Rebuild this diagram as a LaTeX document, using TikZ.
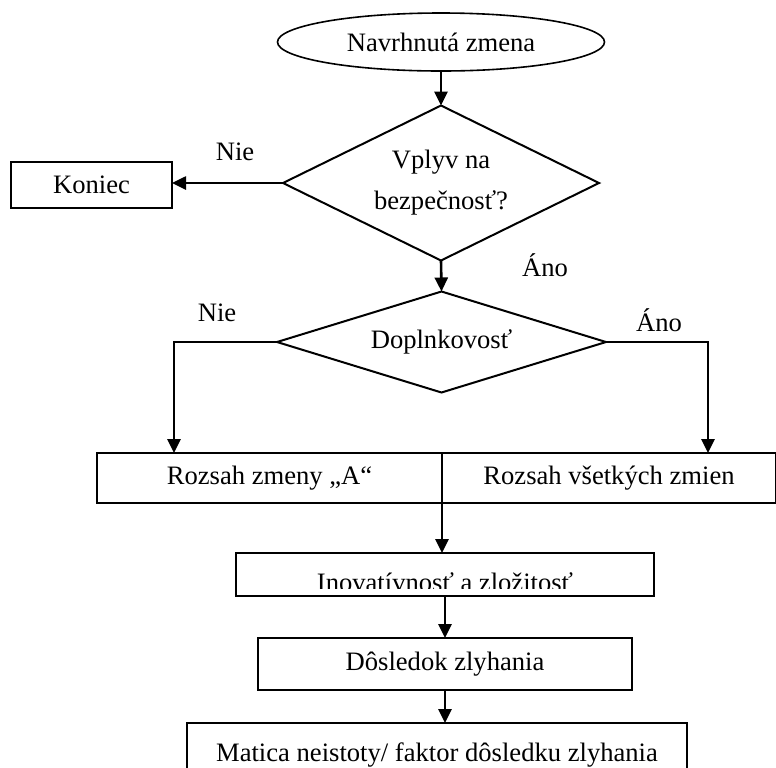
\documentclass[tikz,border=0pt]{standalone}
\usepackage{fontspec}
\setmainfont{Liberation Serif}
\usetikzlibrary{shapes.geometric,arrows.meta}

\begin{document}
\begin{tikzpicture}[x=0.5pt,y=-0.5pt,
  every node/.style={font=\fontsize{13.3}{20.5}\selectfont,inner sep=0pt,outer sep=0pt},
  terminal/.style={draw=drawColor,line width=0.8pt,ellipse},
  decision/.style={draw=drawColor,line width=1pt,diamond,aspect=2,align=center},
  process/.style={draw=drawColor,line width=1pt,rectangle},
  answer/.style={text=drawColor},
  flow/.style={draw=drawColor,line width=1.3pt,-{Triangle[length=7pt,width=6.5pt]}}]
\definecolor{drawColor}{RGB}{0,0,0}
\path[use as bounding box] (0,0) rectangle (776,767);

\node[terminal,minimum width=163.5pt,minimum height=29pt] (navrh) at (441,42) {Navrhnutá zmena};
\node[decision,minimum width=158pt,minimum height=77.5pt] (vplyv) at (441,183) {Vplyv na\\bezpečnosť?};
\node[process,minimum width=80.5pt,minimum height=23pt] (koniec) at (91.5,185) {Koniec};
\node[decision,minimum width=164.5pt,minimum height=50.5pt] (dopln) at (441.5,342) {Doplnkovosť};
\node[process,minimum width=172.5pt,minimum height=25pt] (rozsahA) at (269.5,478) {Rozsah zmeny „A“};
\node[process,minimum width=167pt,minimum height=25pt] (rozsahV) at (609,478) {Rozsah všetkých zmien};
\node[process,minimum width=209pt,minimum height=21.5pt] (inov) at (445,574.5) {};
\begin{scope}
\clip (236,553) rectangle (654,588);
\node[anchor=base] (inovText) at (445,591) {Inovatívnosť a zložitosť};
\end{scope}
\node[process,minimum width=187pt,minimum height=26pt] (dosl) at (445,664) {Dôsledok zlyhania};
\node[process,anchor=north,minimum width=250pt,text height=19pt,text depth=15pt] (matica) at (437,723) {Matica neistoty/ faktor dôsledku zlyhania};

\path[flow] (navrh.south) -- (vplyv.north);
\path[flow] (vplyv.west) -- (vplyv.west -| koniec.east);
\node[answer] (nie1) at (235,152) {Nie};
\path[flow] (vplyv.south) -- (dopln.north);
\node[answer] (ano1) at (545,265) {Áno};

\coordinate (nieEnd) at (174,453);
\coordinate (anoEnd) at (708,453);
\path[flow] (dopln.west) -| (nieEnd);
\path[flow] (dopln.east) -| (anoEnd);
\node[answer] (nie2) at (217,313) {Nie};
\node[answer] (ano2) at (659,320) {Áno};

\path[flow] (rozsahA.south east) -- (rozsahA.south east |- inov.north);
\path[flow] (inov.south) -- (dosl.north);
\path[flow] (dosl.south) -- (matica.north -| dosl.south);
\end{tikzpicture}
\end{document}
